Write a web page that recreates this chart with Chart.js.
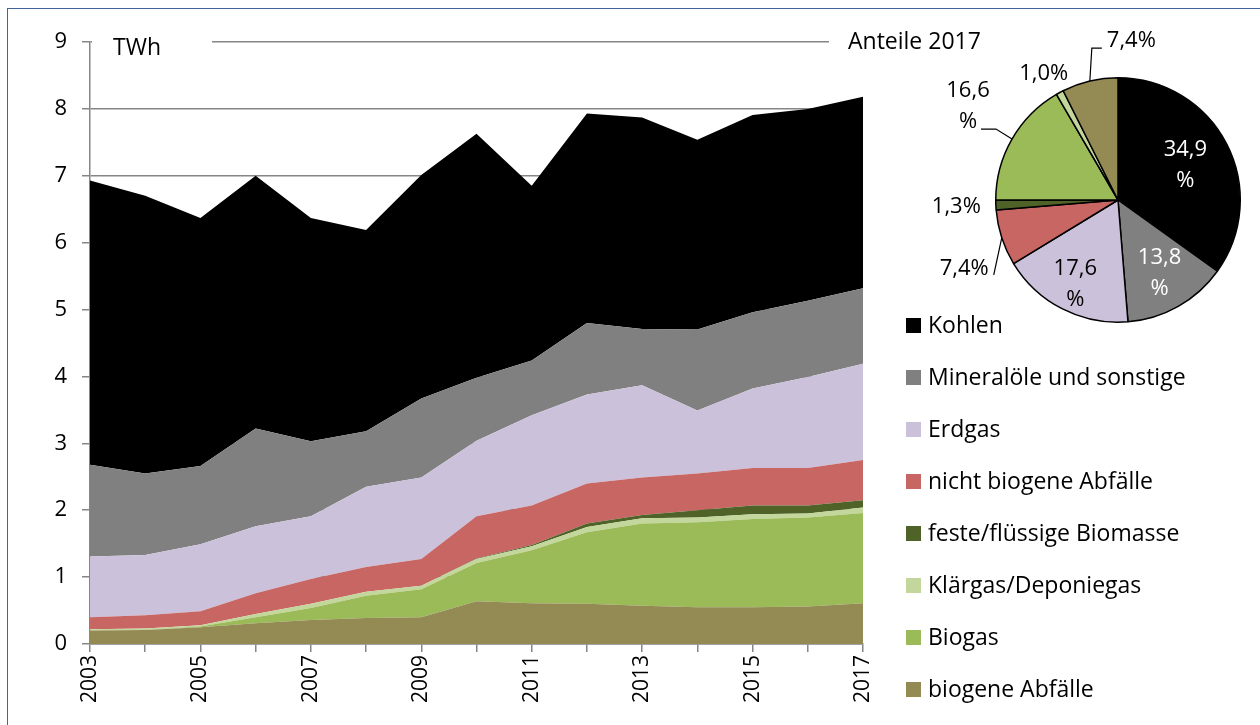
<!DOCTYPE html>
<html>
<head>
<meta charset="utf-8">
<script src="https://cdn.jsdelivr.net/npm/chart.js@4.4.1/dist/chart.umd.min.js"></script>
<style>
    html, body { margin: 0; padding: 0; background: #fff; }
    body { width: 1260px; height: 725px; position: relative; overflow: hidden; font-family: "Open Sans", "Noto Sans", sans-serif; }
    #frame { position: absolute; left: 7px; top: 8px; width: 1300px; height: 800px; border: 1px solid #41659a; }
    #main { position: absolute; left: 0; top: 0; }
    #pie { position: absolute; left: 930px; top: 20px; }
    .box { position: absolute; background: #fff; font-size: 23px; line-height: 26px; color: #000; white-space: nowrap; }
    .item { position: absolute; left: 0; width: 350px; height: 26px; }
    .item .sw { position: absolute; left: 906px; top: 7px; width: 15px; height: 15px; }
    .item .tx { position: absolute; left: 928px; top: 0; font-size: 23px; line-height: 26px; color: #000; white-space: nowrap; }
</style>
</head>
<body>
<div id="frame"></div>
<canvas id="main" width="1260" height="725"></canvas>
<div class="box" style="left:92px;top:33px;width:120px;height:26px;padding-left:21px;box-sizing:border-box;">TWh</div>
<div class="box" style="left:829px;top:27px;width:165px;height:28px;padding-left:19px;box-sizing:border-box;">Anteile 2017</div>
<canvas id="pie" width="330" height="320"></canvas>
<div id="legend"></div>
<script>
// Jahre
const years = ['2003', '2004', '2005', '2006', '2007', '2008', '2009', '2010', '2011', '2012', '2013', '2014', '2015', '2016', '2017'];

// Stromerzeugung je Energieträger in TWh (von unten nach oben gestapelt)
const biogeneAbfaelle = [0.20, 0.21, 0.25, 0.31, 0.36, 0.39, 0.40, 0.64, 0.61, 0.60, 0.57, 0.55, 0.55, 0.56, 0.61];
const biogas = [0.00, 0.00, 0.01, 0.09, 0.18, 0.33, 0.42, 0.57, 0.79, 1.07, 1.23, 1.27, 1.32, 1.33, 1.35];
const klaergas = [0.02, 0.02, 0.02, 0.05, 0.06, 0.06, 0.05, 0.06, 0.06, 0.08, 0.08, 0.07, 0.07, 0.06, 0.08];
const biomasse = [0.00, 0.00, 0.00, 0.00, 0.00, 0.00, 0.00, 0.01, 0.02, 0.05, 0.05, 0.11, 0.13, 0.12, 0.11];
const nichtBiogeneAbfaelle = [0.18, 0.20, 0.21, 0.31, 0.37, 0.37, 0.40, 0.63, 0.59, 0.60, 0.56, 0.55, 0.56, 0.56, 0.60];
const erdgas = [0.91, 0.90, 1.00, 1.00, 0.94, 1.20, 1.22, 1.13, 1.35, 1.33, 1.38, 0.94, 1.19, 1.36, 1.44];
const mineraloele = [1.37, 1.22, 1.17, 1.46, 1.12, 0.83, 1.18, 0.94, 0.82, 1.07, 0.84, 1.21, 1.14, 1.14, 1.13];
const kohlen = [4.25, 4.15, 3.71, 3.78, 3.34, 3.01, 3.34, 3.65, 2.61, 3.13, 3.16, 2.84, 2.95, 2.87, 2.86];

// Anteile 2017 in % (Reihenfolge der Tortenstücke im Uhrzeigersinn ab 12 Uhr)
const pieLabels = ['Kohlen', 'Mineralöle und sonstige', 'Erdgas', 'nicht biogene Abfälle', 'feste/flüssige Biomasse', 'Biogas', 'Klärgas/Deponiegas', 'biogene Abfälle'];
const pieShares = [34.9, 13.8, 17.6, 7.4, 1.3, 16.6, 1.0, 7.4];

// Y-Achse
const yTicks = [0, 1, 2, 3, 4, 5, 6, 7, 8, 9];

// Farben
const colors = {
    'Kohlen': '#000000',
    'Mineralöle und sonstige': '#808080',
    'Erdgas': '#ccc1da',
    'nicht biogene Abfälle': '#c86664',
    'feste/flüssige Biomasse': '#4f6228',
    'Klärgas/Deponiegas': '#c3d69b',
    'Biogas': '#9bbb59',
    'biogene Abfälle': '#948a54'
};

const series = [
    { label: 'biogene Abfälle', data: biogeneAbfaelle },
    { label: 'Biogas', data: biogas },
    { label: 'Klärgas/Deponiegas', data: klaergas },
    { label: 'feste/flüssige Biomasse', data: biomasse },
    { label: 'nicht biogene Abfälle', data: nichtBiogeneAbfaelle },
    { label: 'Erdgas', data: erdgas },
    { label: 'Mineralöle und sonstige', data: mineraloele },
    { label: 'Kohlen', data: kohlen }
];

const axisGrey = '#868686';
const fontFamily = '"Open Sans", "Noto Sans", sans-serif';

// Gestapelte Flächen
new Chart(document.getElementById('main'), {
    type: 'line',
    data: {
        labels: years,
        datasets: series.map((s, i) => ({
            label: s.label,
            data: s.data,
            backgroundColor: colors[s.label],
            borderWidth: 0,
            pointRadius: 0,
            fill: i === 0 ? 'origin' : '-1'
        }))
    },
    options: {
        responsive: false,
        animation: false,
        layout: { padding: { top: 42, right: 397, left: 0, bottom: 0 } },
        plugins: { legend: { display: false }, tooltip: { enabled: false } },
        scales: {
            x: {
                offset: false,
                grid: { drawOnChartArea: false, tickLength: 8, color: axisGrey, lineWidth: 1.5 },
                border: { color: axisGrey, width: 1.5 },
                ticks: {
                    autoSkip: false, maxRotation: 90, minRotation: 90, padding: 3,
                    color: '#000', font: { family: fontFamily, size: 21 },
                    callback: (v, i) => (i % 2 === 0 ? years[i] : '')
                },
                afterFit: (s) => { s.height = 81; }
            },
            y: {
                stacked: true, min: 0, max: 9,
                afterBuildTicks: (s) => { s.ticks = yTicks.map(v => ({ value: v })); },
                ticks: { padding: 15, color: '#000', font: { family: fontFamily, size: 22 } },
                grid: { color: axisGrey, tickLength: 8, lineWidth: 1.5 },
                border: { color: axisGrey, width: 1.5 },
                afterFit: (s) => { s.width = 90; }
            }
        }
    }
});

// Beschriftungen der Tortenstücke
const pieLabelCfg = [
    { lines: ['34,9', '%'], rf: 0.62, color: '#fff' },
    { lines: ['13,8', '%'], rf: 0.69, color: '#fff' },
    { lines: ['17,6', '%'], rf: 0.77, color: '#000' },
    { lines: ['7,4%'], text: [-13, 31], align: 'right', leader: [[-8, 37]] },
    { lines: ['1,3%'], text: [-15, 2], align: 'right' },
    { lines: ['16,6', '%'], text: [-44, -33], leader: [[-16, -10], [-31, -10]] },
    { lines: ['1,0%'], text: [-16, -19] },
    { lines: ['7,4%'], text: [17, -40], align: 'left', leader: [[2, -33], [12, -33]] }
];

const pieLabelPlugin = {
    id: 'pieLabels',
    afterDatasetsDraw(chart) {
        const ctx = chart.ctx;
        const arcs = chart.getDatasetMeta(0).data;
        ctx.save();
        ctx.font = '22px ' + fontFamily;
        ctx.textBaseline = 'middle';
        arcs.forEach((arc, i) => {
            const cfg = pieLabelCfg[i];
            const p = arc.getProps(['x', 'y', 'startAngle', 'endAngle', 'outerRadius'], true);
            const mid = (p.startAngle + p.endAngle) / 2;
            let tx, ty;
            if (cfg.rf) {
                tx = p.x + Math.cos(mid) * p.outerRadius * cfg.rf;
                ty = p.y + Math.sin(mid) * p.outerRadius * cfg.rf;
            } else {
                const ex = p.x + Math.cos(mid) * p.outerRadius;
                const ey = p.y + Math.sin(mid) * p.outerRadius;
                tx = ex + cfg.text[0];
                ty = ey + cfg.text[1];
                if (cfg.leader) {
                    ctx.strokeStyle = '#000';
                    ctx.lineWidth = 1.2;
                    ctx.beginPath();
                    ctx.moveTo(ex, ey);
                    cfg.leader.forEach(pt => ctx.lineTo(ex + pt[0], ey + pt[1]));
                    ctx.stroke();
                }
            }
            ctx.fillStyle = cfg.color || '#000';
            ctx.textAlign = cfg.align || 'center';
            const lh = 31;
            const y0 = ty - (cfg.lines.length - 1) * lh / 2;
            cfg.lines.forEach((t, k) => ctx.fillText(t, tx, y0 + k * lh));
        });
        ctx.restore();
    }
};

new Chart(document.getElementById('pie'), {
    type: 'pie',
    data: {
        labels: pieLabels,
        datasets: [{
            data: pieShares,
            backgroundColor: pieLabels.map(l => colors[l]),
            borderColor: '#000',
            borderWidth: 1.5
        }]
    },
    options: {
        responsive: false,
        animation: false,
        layout: { padding: { left: 65, right: 19, top: 57, bottom: 17 } },
        plugins: { legend: { display: false }, tooltip: { enabled: false } }
    },
    plugins: [pieLabelPlugin]
});

// Legende
const legendOrder = ['Kohlen', 'Mineralöle und sonstige', 'Erdgas', 'nicht biogene Abfälle', 'feste/flüssige Biomasse', 'Klärgas/Deponiegas', 'Biogas', 'biogene Abfälle'];
const legend = document.getElementById('legend');
legendOrder.forEach((name, i) => {
    const div = document.createElement('div');
    div.className = 'item';
    div.style.top = (311 + i * 52) + 'px';
    div.innerHTML = `<span class="sw" style="background:${colors[name]}"></span><span class="tx">${name}</span>`;
    legend.appendChild(div);
});
</script>
</body>
</html>
